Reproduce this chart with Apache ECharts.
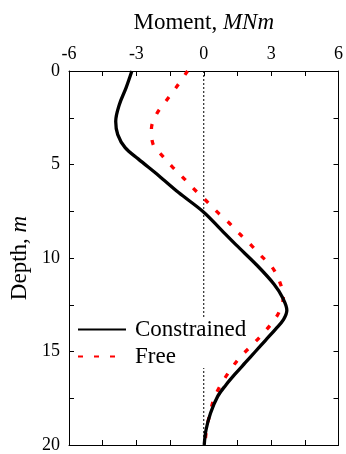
<!DOCTYPE html>
<html>
<head>
<meta charset="utf-8">
<script src="https://cdn.jsdelivr.net/npm/echarts@6/dist/echarts.min.js"></script>
<style>html,body{margin:0;padding:0;background:#fff;}#c{width:346px;height:454px;}</style>
</head>
<body>
<div id="c"></div>
<script>
var xTicks = [-6, -3, 0, 3, 6];
var yTicks = [0, 5, 10, 15, 20];
var constrainedDepth = [0, 0.9, 1.8, 2.7, 3.4, 4.1, 4.7, 5.6, 6.5, 7.55, 8.5, 9.3, 10.4, 11.4, 12.1, 12.8, 13.3, 13.8, 14.4, 15, 15.6, 16.2, 16.8, 17.4, 18.3, 19.2, 20];
var constrainedMoment = [-3.2, -3.46, -3.76, -3.92, -3.83, -3.5, -2.92, -2.0, -1.12, 0, 0.78, 1.44, 2.38, 3.13, 3.5, 3.7, 3.55, 3.2, 2.75, 2.3, 1.85, 1.4, 0.98, 0.62, 0.3, 0.1, 0.02];
var freeDepth = [0, 0.9, 1.6, 2.3, 3.1, 3.9, 4.5, 5.15, 5.75, 6.35, 6.95, 7.55, 8.1, 8.7, 9.3, 9.9, 10.5, 11.3, 12.1, 12.9, 13.5, 14.2, 14.8, 15.4, 16.1, 16.8, 17.5, 18.4, 19.2, 20];
var freeMoment = [-0.72, -1.24, -1.68, -2.1, -2.33, -2.26, -1.87, -1.38, -0.88, -0.4, 0.12, 0.61, 1.11, 1.59, 2.1, 2.57, 3.05, 3.39, 3.54, 3.35, 3.02, 2.52, 2.03, 1.55, 1.12, 0.75, 0.46, 0.26, 0.12, 0.05];
var zeroLineDepth = [0, 20];
var zeroLineMoment = [0, 0];
var seriesNames = ['Constrained', 'Free'];

function pairs(xs, ys) { return xs.map(function (x, i) { return [x, ys[i]]; }); }

var FONT = '"Liberation Serif", "Times New Roman", serif';
var axisCommon = {
  type: 'value',
  axisLine: { show: true, onZero: false, lineStyle: { color: '#000', width: 1 } },
  axisTick: { show: true, inside: true, length: 5, lineStyle: { color: '#000' } },
  minorTick: { show: true, splitNumber: 2, length: 5, lineStyle: { color: '#000' } },
  splitLine: { show: false },
  axisLabel: { show: false, color: '#000', fontFamily: FONT, fontSize: 18 }
};
function ax(extra) { return echarts.util.merge(echarts.util.clone(axisCommon), extra, true); }

var chart = echarts.init(document.getElementById('c'), null, { renderer: 'canvas' });
chart.setOption({
  backgroundColor: '#fff',
  animation: false,
  grid: { left: 69, right: 4, top: 71, bottom: 5 },
  xAxis: [
    ax({ position: 'top', min: xTicks[0], max: xTicks[xTicks.length - 1], interval: 3,
      axisLabel: { show: true, margin: 8 },
      name: '{a|Moment, }{b|MNm}', nameLocation: 'middle', nameGap: 37,
      nameTextStyle: { rich: {
        a: { fontFamily: FONT, fontSize: 23, color: '#000' },
        b: { fontFamily: FONT, fontSize: 23, fontStyle: 'italic', color: '#000' } } } }),
    ax({ position: 'bottom', min: xTicks[0], max: xTicks[xTicks.length - 1], interval: 3 })
  ],
  yAxis: [
    ax({ position: 'left', inverse: true, min: yTicks[0], max: yTicks[yTicks.length - 1], interval: 5,
      axisLabel: { show: true, margin: 9 },
      name: '{a|Depth, }{b|m}', nameLocation: 'middle', nameGap: 31, nameRotate: 90,
      nameTextStyle: { rich: {
        a: { fontFamily: FONT, fontSize: 23, color: '#000' },
        b: { fontFamily: FONT, fontSize: 23, fontStyle: 'italic', color: '#000' } } } }),
    ax({ position: 'right', inverse: true, min: yTicks[0], max: yTicks[yTicks.length - 1], interval: 5 })
  ],
  legend: {
    orient: 'vertical', left: 77, top: 318, padding: 0, itemGap: 4, z: 3,
    itemWidth: 48, itemHeight: 14, backgroundColor: '#fff',
    itemStyle: { opacity: 0 },
    textStyle: { fontFamily: FONT, fontSize: 23, color: '#000', lineHeight: 18, padding: [0, 0, 0, 4] },
    data: seriesNames
  },
  series: [
    {
      name: 'zero', type: 'line', xAxisIndex: 0, yAxisIndex: 0, z: 1, silent: true,
      data: pairs(zeroLineMoment, zeroLineDepth), symbol: 'none',
      lineStyle: { color: '#000', width: 1, type: [2, 2] }
    },
    {
      name: seriesNames[0], type: 'line', xAxisIndex: 0, yAxisIndex: 0,
      data: pairs(constrainedMoment, constrainedDepth), smooth: 0.35, symbol: 'none',
      lineStyle: { color: '#000', width: 3.3 }, itemStyle: { color: '#000' },
      z: 6
    },
    {
      name: seriesNames[1], type: 'line', xAxisIndex: 0, yAxisIndex: 0,
      data: pairs(freeMoment, freeDepth), smooth: 0.35, symbol: 'none',
      lineStyle: { color: '#ff0000', width: 3.3, type: [5, 11] }, itemStyle: { color: '#ff0000' },
      z: 5
    }
  ]
});
</script>
</body>
</html>
